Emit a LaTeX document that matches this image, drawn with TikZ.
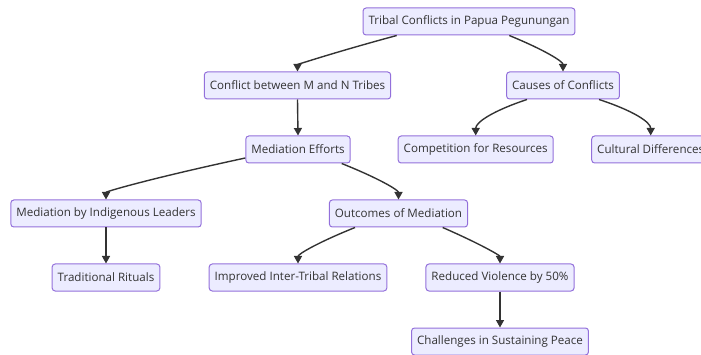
\documentclass[tikz,border=0pt]{standalone}
\usepackage{fontspec}
\setmainfont{Open Sans}
\usetikzlibrary{arrows.meta}
\definecolor{boxfill}{HTML}{ECECFF}
\definecolor{boxline}{HTML}{9370DB}
\definecolor{linkline}{HTML}{333333}
\tikzset{
  topic/.style={draw=boxline, fill=boxfill, rounded corners=3pt, line width=1pt,
    minimum height=27pt, inner xsep=5.5pt, text=linkline,
    font=\fontsize{11.6}{13}\selectfont},
  link/.style={draw=linkline, line width=1.4pt, -{Triangle[length=7.5pt,width=8pt]}}
}
\begin{document}
\begin{tikzpicture}[x=1pt,y=1pt]
	\useasboundingbox (0,0) rectangle (701,-355);
	% boxes
	\node[topic] (root) at (469,-21.5) {Tribal Conflicts in Papua Pegunungan};
	\node[topic] (conf) at (297.5,-85.5) {Conflict between M and N Tribes};
	\node[topic] (causes) at (563,-85.5) {Causes of Conflicts};
	\node[topic] (med) at (298,-149.5) {Mediation Efforts};
	\node[topic] (comp) at (475.7,-149.5) {Competition for Resources};
	\node[topic] (cult) at (650.7,-149.5) {Cultural Differences};
	\node[topic] (indig) at (106,-213.5) {Mediation by Indigenous Leaders};
	\node[topic] (outc) at (398.5,-213.5) {Outcomes of Mediation};
	\node[topic] (trad) at (106,-277.5) {Traditional Rituals};
	\node[topic] (impr) at (298,-277.5) {Improved Inter-Tribal Relations};
	\node[topic] (red) at (500,-277.5) {Reduced Violence by 50\%};
	\node[topic] (chal) at (500,-341.5) {Challenges in Sustaining Peace};
	% links
	\draw[link] ([xshift=-72.3pt]root.south) .. controls +(-66.5,-18) and +(0,6.7) .. (conf.north);
	\draw[link] ([xshift=40.3pt]root.south) .. controls +(35.8,-14.7) and +(0,10) .. (causes.north);
	\draw[link] (conf.south) -- (med.north);
	\draw[link] ([xshift=-36pt]causes.south) .. controls +(-34,-11.3) and +(0,13.3) .. (comp.north);
	\draw[link] ([xshift=36pt]causes.south) .. controls +(34.5,-11.3) and +(0,13.3) .. (cult.north);
	\draw[link] ([yshift=-8.5pt]med.west) .. controls +(-93,-20) and +(0,8) .. (indig.north);
	\draw[link] ([xshift=43.7pt]med.south) .. controls +(38.2,-15.3) and +(0,9.3) .. (outc.north);
	\draw[link] (indig.south) -- (trad.north);
	\draw[link] ([xshift=-43.5pt]outc.south) .. controls +(-38,-15.3) and +(0,9.3) .. (impr.north);
	\draw[link] ([xshift=44.2pt]outc.south) .. controls +(38.2,-16.7) and +(0,8) .. (red.north);
	\draw[link] (red.south) -- (chal.north);
\end{tikzpicture}
\end{document}
